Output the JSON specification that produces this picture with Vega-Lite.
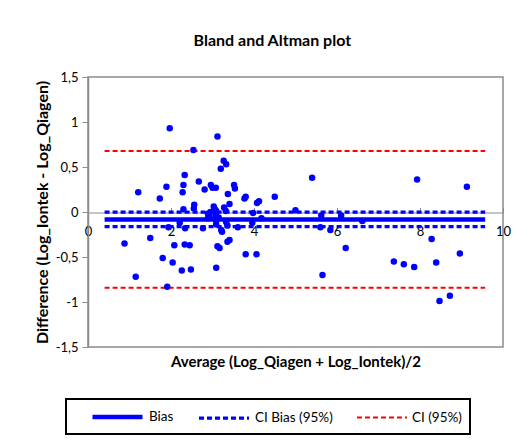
{
  "$schema": "https://vega.github.io/schema/vega-lite/v6.json",
  "autosize": "none",
  "width": 415,
  "height": 270,
  "padding": {"left": 88, "top": 77, "right": 22, "bottom": 95},
  "background": "white",
  "title": {"text": "Bland and Altman plot", "anchor": "middle", "frame": "bounds", "font": "Lato", "fontSize": 16, "fontWeight": "bold", "color": "black", "offset": 22},
  "config": {
    "view": {"stroke": "#8c8c8c", "strokeWidth": 1.5},
    "font": "Lato",
    "legend": {"strokeWidth": 2}
  },
  "datasets": {
    "points": [
      {"avg": 1.97, "diff": 0.93}, {"avg": 3.12, "diff": 0.84}, {"avg": 2.54, "diff": 0.69}, {"avg": 3.27, "diff": 0.57},
      {"avg": 3.33, "diff": 0.53}, {"avg": 3.20, "diff": 0.48}, {"avg": 2.33, "diff": 0.41}, {"avg": 1.21, "diff": 0.22},
      {"avg": 1.89, "diff": 0.28}, {"avg": 1.73, "diff": 0.15}, {"avg": 2.30, "diff": 0.30}, {"avg": 2.28, "diff": 0.22},
      {"avg": 2.67, "diff": 0.34}, {"avg": 2.81, "diff": 0.25}, {"avg": 2.96, "diff": 0.30}, {"avg": 3.00, "diff": 0.27},
      {"avg": 3.08, "diff": 0.27}, {"avg": 3.37, "diff": 0.20}, {"avg": 3.52, "diff": 0.30}, {"avg": 3.54, "diff": 0.26},
      {"avg": 3.77, "diff": 0.15}, {"avg": 3.80, "diff": 0.17}, {"avg": 4.07, "diff": 0.10}, {"avg": 4.12, "diff": 0.12},
      {"avg": 2.56, "diff": 0.08}, {"avg": 2.55, "diff": 0.04}, {"avg": 2.30, "diff": 0.03}, {"avg": 3.03, "diff": 0.06},
      {"avg": 3.06, "diff": 0.03}, {"avg": 3.09, "diff": 0.01}, {"avg": 3.28, "diff": 0.05}, {"avg": 3.32, "diff": 0.01},
      {"avg": 3.41, "diff": 0.09}, {"avg": 2.89, "diff": -0.02}, {"avg": 3.08, "diff": -0.04}, {"avg": 2.93, "diff": -0.05},
      {"avg": 2.89, "diff": -0.07}, {"avg": 3.09, "diff": -0.10}, {"avg": 3.09, "diff": -0.14}, {"avg": 3.21, "diff": -0.20},
      {"avg": 3.36, "diff": -0.15}, {"avg": 3.33, "diff": -0.11}, {"avg": 3.61, "diff": -0.17}, {"avg": 3.96, "diff": -0.12},
      {"avg": 3.98, "diff": -0.01}, {"avg": 4.18, "diff": -0.07}, {"avg": 4.50, "diff": 0.17}, {"avg": 5.40, "diff": 0.38},
      {"avg": 5.00, "diff": 0.02}, {"avg": 5.62, "diff": -0.04}, {"avg": 5.60, "diff": -0.17}, {"avg": 5.84, "diff": -0.20},
      {"avg": 6.10, "diff": -0.04}, {"avg": 6.61, "diff": -0.10}, {"avg": 6.21, "diff": -0.40}, {"avg": 5.65, "diff": -0.70},
      {"avg": 7.37, "diff": -0.55}, {"avg": 7.61, "diff": -0.58}, {"avg": 7.86, "diff": -0.61}, {"avg": 8.28, "diff": -0.30},
      {"avg": 8.39, "diff": -0.56}, {"avg": 8.96, "diff": -0.46}, {"avg": 8.47, "diff": -0.99}, {"avg": 8.72, "diff": -0.93},
      {"avg": 7.93, "diff": 0.36}, {"avg": 9.13, "diff": 0.28}, {"avg": 0.88, "diff": -0.35}, {"avg": 1.50, "diff": -0.29},
      {"avg": 2.08, "diff": -0.37}, {"avg": 2.33, "diff": -0.36}, {"avg": 2.45, "diff": -0.37}, {"avg": 1.80, "diff": -0.51},
      {"avg": 2.04, "diff": -0.56}, {"avg": 2.26, "diff": -0.65}, {"avg": 2.48, "diff": -0.64}, {"avg": 1.15, "diff": -0.72},
      {"avg": 1.91, "diff": -0.83}, {"avg": 1.94, "diff": -0.17}, {"avg": 2.21, "diff": -0.12}, {"avg": 2.34, "diff": -0.18},
      {"avg": 2.77, "diff": -0.18}, {"avg": 3.12, "diff": -0.38}, {"avg": 3.17, "diff": -0.40}, {"avg": 3.36, "diff": -0.33},
      {"avg": 3.41, "diff": -0.31}, {"avg": 3.09, "diff": -0.62}, {"avg": 3.80, "diff": -0.47}, {"avg": 4.06, "diff": -0.47},
      {"avg": 3.23, "diff": -0.22}, {"avg": 2.95, "diff": 0.00}, {"avg": 3.15, "diff": -0.06}
    ],
    "lines": [
      {"line": "bias", "type": "Bias", "avg": 0.4, "diff": -0.082},
      {"line": "bias", "type": "Bias", "avg": 9.57, "diff": -0.082},
      {"line": "cib_hi", "type": "CI Bias (95%)", "avg": 0.4, "diff": 0.0},
      {"line": "cib_hi", "type": "CI Bias (95%)", "avg": 9.57, "diff": 0.0},
      {"line": "cib_lo", "type": "CI Bias (95%)", "avg": 0.4, "diff": -0.163},
      {"line": "cib_lo", "type": "CI Bias (95%)", "avg": 9.57, "diff": -0.163},
      {"line": "ci_hi", "type": "CI (95%)", "avg": 0.4, "diff": 0.678},
      {"line": "ci_hi", "type": "CI (95%)", "avg": 9.57, "diff": 0.678},
      {"line": "ci_lo", "type": "CI (95%)", "avg": 0.4, "diff": -0.841},
      {"line": "ci_lo", "type": "CI (95%)", "avg": 9.57, "diff": -0.841}
    ]
  },
  "layer": [
    {
      "data": {"name": "lines"},
      "mark": {"type": "line", "strokeCap": "butt"},
      "encoding": {
        "x": {"field": "avg", "type": "quantitative", "scale": {"domain": [0, 10], "nice": false}},
        "y": {"field": "diff", "type": "quantitative", "scale": {"domain": [-1.5, 1.5], "nice": false}},
        "detail": {"field": "line"},
        "color": {"field": "type", "type": "nominal", "sort": null,
          "scale": {"domain": ["Bias", "CI Bias (95%)", "CI (95%)"], "range": ["#0000ff", "#0000ff", "#ff0000"]},
          "legend": {"title": null, "orient": "none", "legendX": -22, "legendY": 322, "direction": "horizontal",
            "symbolType": "M1.133,0H7.8", "symbolSize": 225, "labelFont": "Lato", "labelFontSize": 13.5, "labelColor": "black",
            "columnPadding": 7, "labelOffset": 55, "padding": 8, "strokeColor": "black", "fillColor": "white"}},
        "strokeDash": {"field": "type", "type": "nominal", "sort": null,
          "scale": {"domain": ["Bias", "CI Bias (95%)", "CI (95%)"], "range": [[1, 0], [5, 3], [5, 3]]}},
        "strokeWidth": {"field": "type", "type": "nominal", "sort": null,
          "scale": {"domain": ["Bias", "CI Bias (95%)", "CI (95%)"], "range": [4.5, 2, 2]}}
      }
    },
    {
      "data": {"name": "points"},
      "mark": {"type": "point", "filled": true, "opacity": 1, "size": 42, "color": "#0000ff"},
      "encoding": {
        "x": {"field": "avg", "type": "quantitative",
          "axis": {"title": "Average (Log_Qiagen + Log_Iontek)/2", "titleFont": "Lato", "titleFontSize": 15, "titleFontWeight": "bold", "titleColor": "black",
            "titleY": 142, "offset": -134.5, "values": [0, 2, 4, 6, 8, 10], "grid": false, "labelFlush": false,
            "domainColor": "#8c8c8c", "domainWidth": 1, "tickColor": "#8c8c8c", "tickSize": -5, "labelPadding": 18,
            "labelFont": "Lato", "labelFontSize": 13, "labelColor": "black"}},
        "y": {"field": "diff", "type": "quantitative",
          "axis": {"title": "Difference (Log_Iontek - Log_Qiagen)", "titleFont": "Lato", "titleFontSize": 16, "titleFontWeight": "bold", "titleColor": "black",
            "titlePadding": 5, "values": [-1.5, -1, -0.5, 0, 0.5, 1, 1.5], "grid": false,
            "labelExpr": "replace(toString(datum.value), '.', ',')",
            "domainColor": "#8c8c8c", "domainWidth": 1.5, "tickColor": "#8c8c8c", "tickSize": 6, "labelPadding": 4,
            "labelFont": "Lato", "labelFontSize": 13, "labelColor": "black"}}
      }
    }
  ]
}
